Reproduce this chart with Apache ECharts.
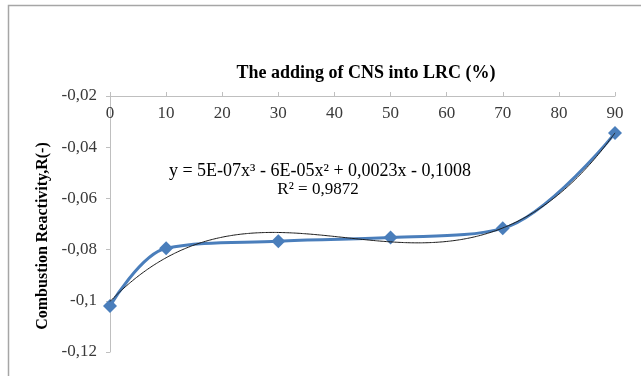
<!DOCTYPE html>
<html>
<head>
<meta charset="utf-8">
<script src="https://cdn.jsdelivr.net/npm/echarts@6/dist/echarts.min.js"></script>
<style>
  html, body { margin: 0; padding: 0; background: #fff; }
  #chart { width: 641px; height: 376px; }
</style>
</head>
<body>
<div id="chart"></div>
<script>
// CNS share added to LRC (%) and measured combustion reactivity R(-)
const cnsShare = [0, 10, 30, 50, 70, 90];
const reactivity = [-0.102, -0.0795, -0.0767, -0.0753, -0.0717, -0.0345];
const xTicks = [0, 10, 20, 30, 40, 50, 60, 70, 80, 90];
const yTicks = [-0.02, -0.04, -0.06, -0.08, -0.1, -0.12];
const trendLabel = 'y = 5E-07x\u00B3 - 6E-05x\u00B2 + 0,0023x - 0,1008';
const r2Label = 'R\u00B2 = 0,9872';
const yTitle = 'Combustion Reactivity,R(-)';

// Third-order least-squares trend through the measured points
function cubicFit(xs, ys) {
  const n = 4;
  const A = [];
  for (let i = 0; i < n; i++) {
    A.push([]);
    for (let j = 0; j < n; j++) {
      let s = 0;
      xs.forEach(x => { s += Math.pow(x, i + j); });
      A[i].push(s);
    }
    let b = 0;
    xs.forEach((x, k) => { b += ys[k] * Math.pow(x, i); });
    A[i].push(b);
  }
  for (let c = 0; c < n; c++) {
    let p = c;
    for (let r = c + 1; r < n; r++) if (Math.abs(A[r][c]) > Math.abs(A[p][c])) p = r;
    [A[c], A[p]] = [A[p], A[c]];
    for (let r = 0; r < n; r++) {
      if (r === c) continue;
      const f = A[r][c] / A[c][c];
      for (let k = c; k <= n; k++) A[r][k] -= f * A[c][k];
    }
  }
  return A.map((row, i) => row[n] / row[i]);
}
const coef = cubicFit(cnsShare, reactivity);
const trend = [];
for (let x = 0; x <= 90; x += 1) {
  trend.push([x, coef[0] + coef[1] * x + coef[2] * x * x + coef[3] * x * x * x]);
}

const serif = '"Liberation Serif", "DejaVu Serif", serif';
const fmt = v => String(+v.toFixed(2)).replace('.', ',');

const chart = echarts.init(document.getElementById('chart'), null, { renderer: 'canvas' });
chart.setOption({
  animation: false,
  backgroundColor: '#fff',
  title: {
    text: 'The adding of CNS into LRC (%)',
    left: 361,
    top: 59,
    textAlign: 'center',
    textStyle: { fontFamily: serif, fontSize: 18, fontWeight: 'bold', color: '#000' }
  },
  grid: { left: 110, right: 26, top: 96, bottom: 24 },
  xAxis: {
    type: 'value',
    position: 'top',
    min: 0,
    max: 90,
    interval: 10,
    axisLine: { show: true, lineStyle: { color: '#bfbfbf', width: 1 } },
    axisTick: { show: true, inside: false, length: 4, lineStyle: { color: '#bfbfbf' } },
    axisLabel: {
      inside: true,
      margin: 9,
      fontFamily: serif,
      fontSize: 17,
      color: '#3a3a3a',
      formatter: v => (xTicks.indexOf(v) >= 0 ? String(v) : '')
    },
    splitLine: { show: false }
  },
  yAxis: {
    type: 'value',
    min: -0.12,
    max: -0.02,
    interval: 0.02,
    axisLine: { show: true, lineStyle: { color: '#bfbfbf', width: 1 } },
    axisTick: { show: true, inside: false, length: 4, lineStyle: { color: '#bfbfbf' } },
    axisLabel: {
      margin: 13,
      fontFamily: serif,
      fontSize: 17,
      color: '#3a3a3a',
      formatter: v => (yTicks.some(t => Math.abs(t - v) < 1e-9) ? fmt(v) : '')
    },
    splitLine: { show: false }
  },
  graphic: [
    {
      type: 'rect',
      shape: { x: 8.5, y: 5.5, width: 700, height: 420 },
      style: { fill: 'none', stroke: '#a6a6a6', lineWidth: 1.5 },
      silent: true,
      z: -1
    },
    {
      type: 'text',
      x: 43,
      y: 236,
      rotation: Math.PI / 2,
      style: {
        text: yTitle,
        font: 'bold 16px ' + serif,
        fill: '#000',
        align: 'center',
        verticalAlign: 'middle'
      }
    },
    {
      type: 'text',
      x: 320,
      y: 171,
      style: {
        text: trendLabel,
        font: '18px ' + serif,
        fill: '#000',
        align: 'center',
        verticalAlign: 'middle'
      }
    },
    {
      type: 'text',
      x: 318,
      y: 190,
      style: {
        text: r2Label,
        font: '17px ' + serif,
        fill: '#000',
        align: 'center',
        verticalAlign: 'middle'
      }
    }
  ],
  series: [
    {
      name: 'R',
      type: 'line',
      data: cnsShare.map((x, i) => [x, reactivity[i]]),
      smooth: 0.35,
      symbol: 'diamond',
      symbolSize: 14,
      lineStyle: { color: '#4a7ebb', width: 3 },
      itemStyle: { color: '#4a7ebb' },
      z: 3
    },
    {
      name: 'trend',
      type: 'line',
      data: trend,
      smooth: true,
      symbol: 'none',
      lineStyle: { color: '#1a1a1a', width: 1 },
      z: 4
    }
  ]
});
</script>
</body>
</html>
